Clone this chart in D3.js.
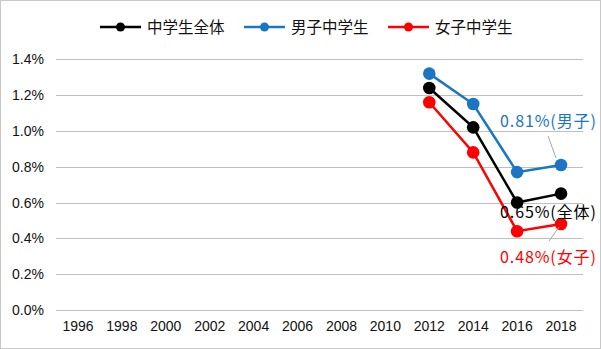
<!DOCTYPE html>
<html><head><meta charset="utf-8">
<script src="https://cdn.jsdelivr.net/npm/d3@7"></script>
<style>body{margin:0;background:#fff}svg{display:block}</style>
</head><body><svg id="c" width="601" height="349"></svg>
<script>
const years = ["1996","1998","2000","2002","2004","2006","2008","2010","2012","2014","2016","2018"];
const dataYears = ["2012","2014","2016","2018"];
const totalVals = [1.24, 1.02, 0.60, 0.65];
const boyVals = [1.32, 1.15, 0.77, 0.81];
const girlVals = [1.16, 0.88, 0.44, 0.48];
const yTicks = [0, 0.2, 0.4, 0.6, 0.8, 1.0, 1.2, 1.4];
const seriesNames = ["中学生全体", "男子中学生", "女子中学生"];
const colors = ["#000000", "#1a75c5", "#ff0000"];

const svg = d3.select("#c");
svg.append("rect").attr("x",0.5).attr("y",0.5).attr("width",600).attr("height",348)
  .attr("fill","#fff").attr("stroke","#c8c8c8");

const x = d3.scaleBand().domain(years).range([56, 583]);
const y = d3.scaleLinear().domain([0, 1.4]).range([310, 59.3]);
const font = "'Liberation Sans', Arial, sans-serif";

// gridlines
svg.append("g").selectAll("line").data(yTicks).join("line")
  .attr("x1",56).attr("x2",583)
  .attr("y1",d=>Math.round(y(d))+0.5).attr("y2",d=>Math.round(y(d))+0.5)
  .attr("stroke","#bfbfbf").attr("stroke-width",1);

const yAxis = svg.append("g").attr("transform","translate(56,0)")
  .call(d3.axisLeft(y).tickValues(yTicks).tickFormat(d=>d.toFixed(1)+"%").tickSize(0).tickPadding(12));
yAxis.select(".domain").remove();
yAxis.selectAll("text").attr("font-family",font).attr("font-size",14).attr("fill","#111");

const xAxis = svg.append("g").attr("transform","translate(0,310)")
  .call(d3.axisBottom(x).tickSize(0).tickPadding(11));
xAxis.select(".domain").remove();
xAxis.selectAll("text").attr("font-family",font).attr("font-size",14).attr("fill","#111");

const cx = d => x(d) + x.bandwidth()/2;
const allSeries = [totalVals, boyVals, girlVals];
const drawOrder = [2, 0, 1];
drawOrder.forEach(i => {
  const vals = allSeries[i];
  const pts = dataYears.map((yr,k)=>[cx(yr), y(vals[k])]);
  svg.append("path").attr("d", d3.line()(pts)).attr("fill","none")
    .attr("stroke",colors[i]).attr("stroke-width",2.5);
  svg.append("g").selectAll("circle").data(pts).join("circle")
    .attr("cx",d=>d[0]).attr("cy",d=>d[1]).attr("r",6.3).attr("fill",colors[i]);
});

// leader lines
const last = dataYears[dataYears.length-1];
svg.append("line").attr("x1",cx(last)-13).attr("y1",136).attr("x2",cx(last)-5).attr("y2",y(boyVals[3])-7)
  .attr("stroke","#a6a6a6").attr("stroke-width",1);
svg.append("line").attr("x1",cx(last)-2).attr("y1",y(girlVals[3])+3).attr("x2",cx(last)-12).attr("y2",241)
  .attr("stroke","#a6a6a6").attr("stroke-width",1);

// labels
const lab = (t, xx, yy, col) => svg.append("text").attr("x",xx).attr("y",yy).text(t)
  .attr("font-family","'Noto Sans CJK JP', sans-serif").attr("font-size",16)
  .attr("letter-spacing","0.9px").attr("fill",col);
lab(boyVals[3].toFixed(2)+"%(男子)", 500, 127, colors[1]);
lab(totalVals[3].toFixed(2)+"%(全体)", 500, 218, colors[0]);
lab(girlVals[3].toFixed(2)+"%(女子)", 500, 263, colors[2]);

// legend
const legX = [100, 244, 388];
seriesNames.forEach((n,i)=>{
  const g = svg.append("g");
  g.append("line").attr("x1",legX[i]).attr("x2",legX[i]+41).attr("y1",27).attr("y2",27)
    .attr("stroke",colors[i]).attr("stroke-width",2.5);
  g.append("circle").attr("cx",legX[i]+20.5).attr("cy",27).attr("r",4.5).attr("fill",colors[i]);
  g.append("text").attr("x",legX[i]+47).attr("y",33).text(n)
    .attr("font-family","'Noto Sans CJK JP', sans-serif").attr("font-size",15.5).attr("fill","#111");
});
</script></body></html>
